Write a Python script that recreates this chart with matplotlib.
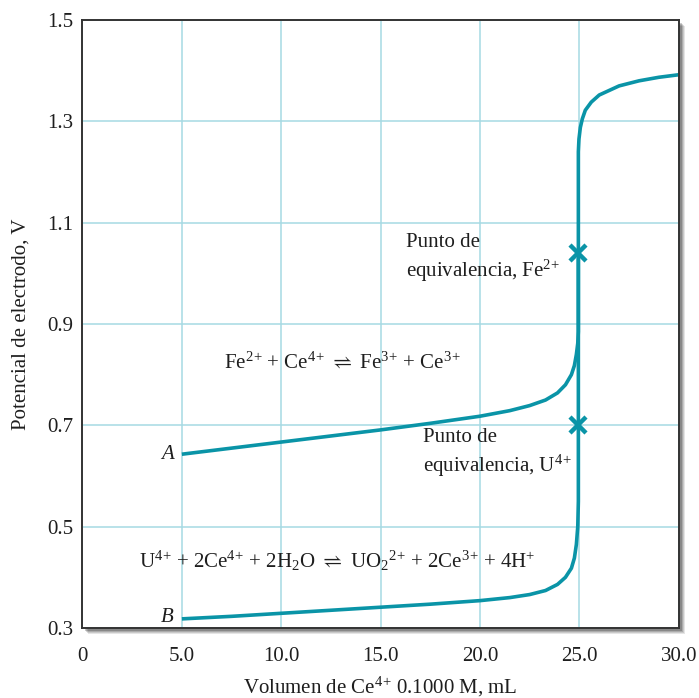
import matplotlib
matplotlib.use("Agg")
import matplotlib.pyplot as plt
from matplotlib.patches import Rectangle

plt.rcParams['font.family'] = 'serif'
plt.rcParams['font.serif'] = ['Liberation Serif', 'DejaVu Serif']
plt.rcParams['mathtext.fontset'] = 'custom'
plt.rcParams['mathtext.rm'] = 'Liberation Serif'
plt.rcParams['mathtext.it'] = 'Liberation Serif:italic'
plt.rcParams['mathtext.fallback'] = 'stix'

# curve A: Fe2+ titrated with Ce4+
vol_a = [5.0, 7.5, 10.0, 12.5, 15.0, 17.5, 20.0, 21.5, 22.5, 23.3, 23.9, 24.3,
         24.6, 24.75, 24.85, 24.92, 24.95, 24.95, 24.98, 25.05, 25.15, 25.3,
         25.6, 26.0, 27.0, 28.0, 29.0, 30.0]
pot_a = [0.643, 0.655, 0.667, 0.679, 0.691, 0.704, 0.718, 0.729, 0.739, 0.750,
         0.764, 0.780, 0.800, 0.818, 0.840, 0.862, 0.885, 1.240, 1.265, 1.288,
         1.305, 1.322, 1.338, 1.352, 1.370, 1.380, 1.387, 1.392]

# curve B: U4+ titrated with Ce4+
vol_b = [5.0, 7.5, 10.0, 12.5, 15.0, 17.5, 20.0, 21.5, 22.5, 23.3, 23.9, 24.3,
         24.6, 24.75, 24.85, 24.92, 24.95, 24.95]
pot_b = [0.318, 0.323, 0.329, 0.335, 0.341, 0.347, 0.354, 0.360, 0.366, 0.374,
         0.386, 0.400, 0.418, 0.438, 0.465, 0.500, 0.550, 1.030]

# equivalence points
eq_vol = [24.95, 24.95]
eq_pot = [1.040, 0.700]

xticks = [0, 5, 10, 15, 20, 25, 30]
xlabels = ['0', '5.0', '10.0', '15.0', '20.0', '25.0', '30.0']
yticks = [0.3, 0.5, 0.7, 0.9, 1.1, 1.3, 1.5]
ylabels = ['0.3', '0.5', '0.7', '0.9', '1.1', '1.3', '1.5']

teal = '#0a94a7'
gridc = '#a6dae3'
ink = '#1e1e1e'


def sup(num, sign):
    # charge as superscript, split so the sign gets no operator spacing
    return '$^{%s}$$^{%s}$' % (num, sign) if num else '$^{%s}$' % sign


fig = plt.figure(figsize=(6.99, 6.98), dpi=100)
pos = [0.118, 0.1003, 0.853, 0.871]

# soft drop shadow behind the plot box
for i, a in enumerate([0.10, 0.12, 0.15, 0.2]):
    off = (6 - i) / 699
    fig.patches.append(Rectangle((pos[0] + off, pos[1] - off), pos[2], pos[3],
                                 transform=fig.transFigure, facecolor='#000000',
                                 alpha=a, edgecolor='none', zorder=0))

ax = fig.add_axes(pos)
ax.set_zorder(1)
ax.set_facecolor('white')
ax.set_xlim(0, 30)
ax.set_ylim(0.3, 1.5)
ax.set_xticks(xticks)
ax.set_xticklabels(xlabels)
ax.set_yticks(yticks)
ax.set_yticklabels(ylabels)
ax.tick_params(length=0, labelsize=15, colors=ink)
ax.tick_params(axis='x', pad=14)
ax.tick_params(axis='y', pad=6.5)
ax.grid(True, color=gridc, lw=1.1)
ax.set_axisbelow(True)
for s in ax.spines.values():
    s.set_color('#333333')
    s.set_linewidth(1.4)

ax.plot(vol_a, pot_a, color=teal, lw=2.6, solid_capstyle='butt')
ax.plot(vol_b, pot_b, color=teal, lw=2.6, solid_capstyle='butt')
ax.plot(eq_vol, eq_pot, ls='none', marker='x', ms=11, mew=3.2, color=teal)

fs = 15
ax.text(16.3, 1.030, 'Punto de\nequivalencia, Fe' + sup('2', '+'), fontsize=fs,
        va='center', ha='left', linespacing=1.3, color=ink)
ax.text(17.15, 0.645, 'Punto de\nequivalencia, U' + sup('4', '+'), fontsize=fs,
        va='center', ha='left', linespacing=1.3, color=ink)
ax.text(13.1, 0.826,
        'Fe' + sup('2', '+') + ' + Ce' + sup('4', '+') + r' $\rightleftharpoons$ Fe'
        + sup('3', '+') + ' + Ce' + sup('3', '+'),
        fontsize=fs, ha='center', va='center', color=ink)
ax.text(2.85, 0.432,
        'U' + sup('4', '+') + ' + 2Ce' + sup('4', '+') + ' + 2H$_2$O'
        + r' $\rightleftharpoons$ UO$_2$' + sup('2', '+') + ' + 2Ce' + sup('3', '+')
        + ' + 4H' + sup('', '+'),
        fontsize=fs, ha='left', va='center', color=ink)
ax.text(4.6, 0.642, 'A', fontsize=fs, style='italic', ha='right', va='center',
        color=ink)
ax.text(4.6, 0.320, 'B', fontsize=fs, style='italic', ha='right', va='center',
        color=ink)

ax.set_xlabel('Volumen de Ce' + sup('4', '+') + ' 0.1000 M, mL', fontsize=fs,
              labelpad=6, color=ink)
ax.set_ylabel('Potencial de electrodo, V', fontsize=fs, labelpad=12, color=ink)

fig.savefig('out.png', dpi=100)
